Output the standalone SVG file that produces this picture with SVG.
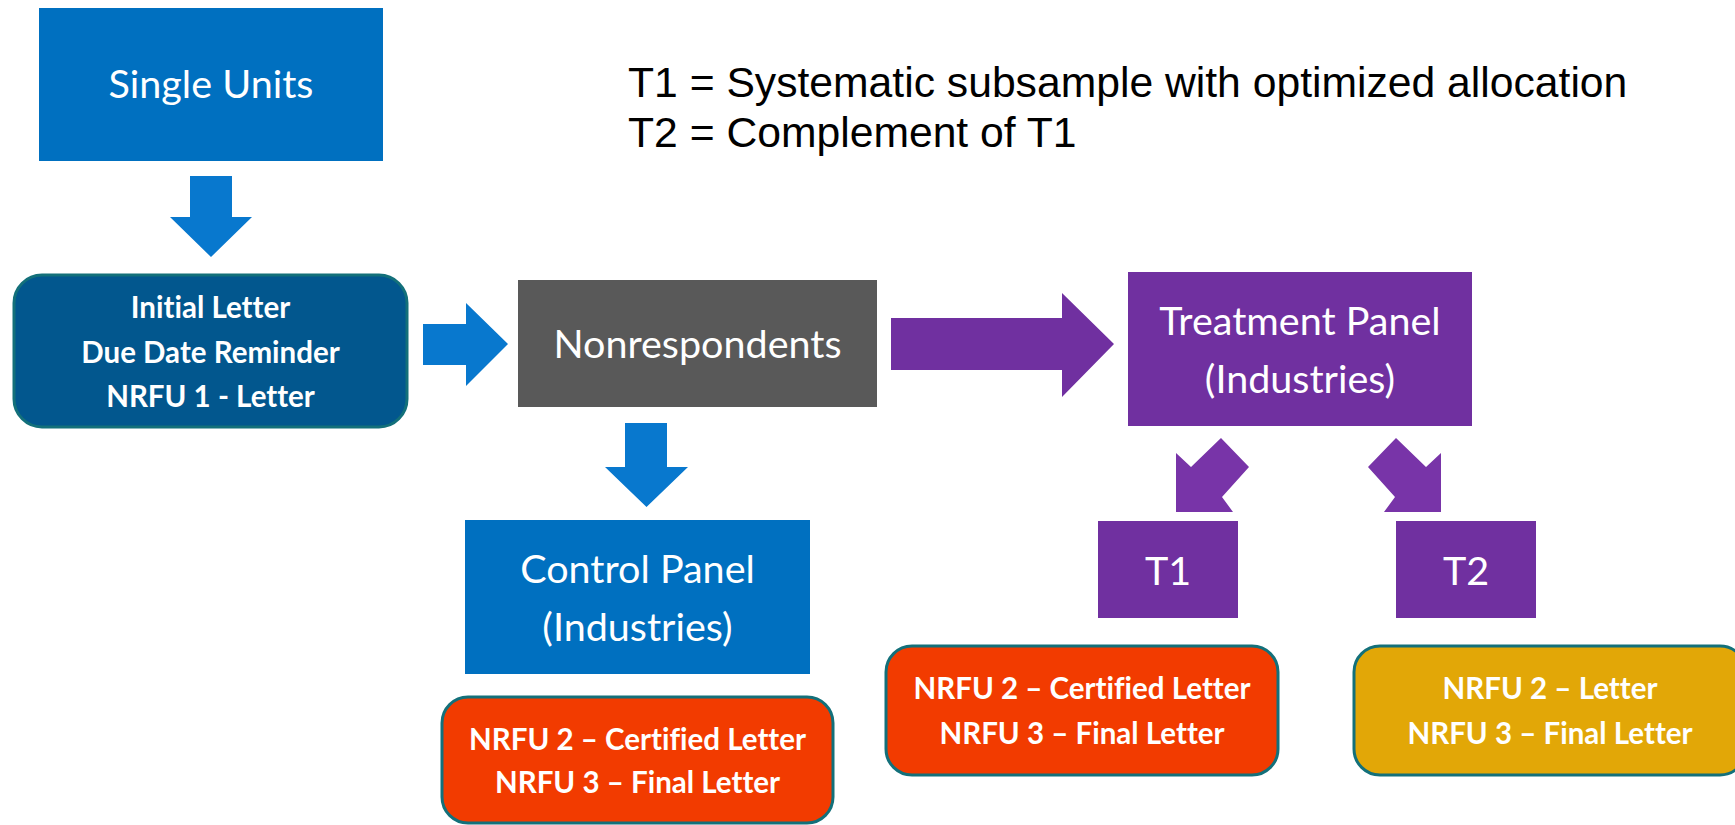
<svg xmlns="http://www.w3.org/2000/svg" width="1735" height="825" viewBox="0 0 1735 825">
  <style>
    .blue { fill: #0070C0; }
    .grey { fill: #595959; }
    .purple { fill: #7030A0; }
    .step { stroke: #13707A; stroke-width: 3; }
    .navy { fill: #02578E; }
    .red { fill: #F23B00; }
    .gold { fill: #E2A707; }
    .arrow-blue { fill: #0878CE; }
    .arrow-purple { fill: #7030A0; }
    .arrow-violet { fill: #7834A8; }
    .lbl { font-family: Lato, "Open Sans", sans-serif; font-size: 39.5px; fill: #FFFFFF; text-anchor: middle; font-variant-ligatures: none; }
    .bold { font-family: Lato, "Open Sans", sans-serif; font-size: 29.5px; font-weight: 700; fill: #FFFFFF; text-anchor: middle; font-variant-ligatures: none; }
    .note { font-family: "Liberation Sans", Arial, sans-serif; font-size: 42.67px; fill: #000000; }
  </style>

  <rect width="1735" height="825" fill="#FFFFFF"/>

  <!-- legend -->
  <g id="legend">
    <text class="note" x="628" y="97">T1 = Systematic subsample with optimized allocation</text>
    <text class="note" x="628" y="147">T2 = Complement of T1</text>
  </g>

  <!-- block arrows between stages -->
  <g id="connectors">
    <polygon class="arrow-blue" points="190,176 232,176 232,217 252,217 211,257 170,217 190,217"/>
    <polygon class="arrow-blue" points="423,324 466,324 466,303 508,344 466,386 466,365 423,365"/>
    <polygon class="arrow-purple" points="891,318 1062,318 1062,293 1114,344 1062,397 1062,370 891,370"/>
    <polygon class="arrow-blue" points="625,423 667,423 667,467 688,467 646.5,507 605,467 625,467"/>
    <polygon class="arrow-violet" points="1221,438 1249,467 1222,497 1233,512 1176,512 1176,453 1191,467"/>
    <polygon class="arrow-violet" points="1396,438 1368,467 1395,497 1384,512 1441,512 1441,453 1426,467"/>
  </g>

  <g id="single-units">
    <rect class="blue" x="39" y="8" width="344" height="153"/>
    <text class="lbl" x="211" y="98">Single Units</text>
  </g>

  <g id="initial-contacts">
    <rect class="navy step" x="14" y="275" width="393" height="152" rx="28"/>
    <text class="bold" x="210.5" y="318">Initial Letter</text>
    <text class="bold" x="210.5" y="363">Due Date Reminder</text>
    <text class="bold" x="210.5" y="407">NRFU 1 - Letter</text>
  </g>

  <g id="nonrespondents">
    <rect class="grey" x="518" y="280" width="359" height="127"/>
    <text class="lbl" x="697.5" y="358">Nonrespondents</text>
  </g>

  <g id="control-panel">
    <rect class="blue" x="465" y="520" width="345" height="154"/>
    <text class="lbl" x="637.5" y="583">Control Panel</text>
    <text class="lbl" x="637.5" y="641">(Industries)</text>
  </g>

  <g id="control-followup">
    <rect class="red step" x="442" y="697" width="391" height="126" rx="26"/>
    <text class="bold" x="637.5" y="750">NRFU 2 – Certified Letter</text>
    <text class="bold" x="637.5" y="793">NRFU 3 – Final Letter</text>
  </g>

  <g id="treatment-panel">
    <rect class="purple" x="1128" y="272" width="344" height="154"/>
    <text class="lbl" x="1300" y="335">Treatment Panel</text>
    <text class="lbl" x="1300" y="393">(Industries)</text>
  </g>

  <g id="t1">
    <rect class="purple" x="1098" y="521" width="140" height="97"/>
    <text class="lbl" x="1168" y="585">T1</text>
  </g>

  <g id="t2">
    <rect class="purple" x="1396" y="521" width="140" height="97"/>
    <text class="lbl" x="1466" y="585">T2</text>
  </g>

  <g id="t1-followup">
    <rect class="red step" x="886" y="646" width="392" height="129" rx="26"/>
    <text class="bold" x="1082" y="699">NRFU 2 – Certified Letter</text>
    <text class="bold" x="1082" y="744">NRFU 3 – Final Letter</text>
  </g>

  <g id="t2-followup">
    <rect class="gold step" x="1354" y="646" width="392" height="129" rx="26"/>
    <text class="bold" x="1550" y="699">NRFU 2 – Letter</text>
    <text class="bold" x="1550" y="744">NRFU 3 – Final Letter</text>
  </g>
</svg>
